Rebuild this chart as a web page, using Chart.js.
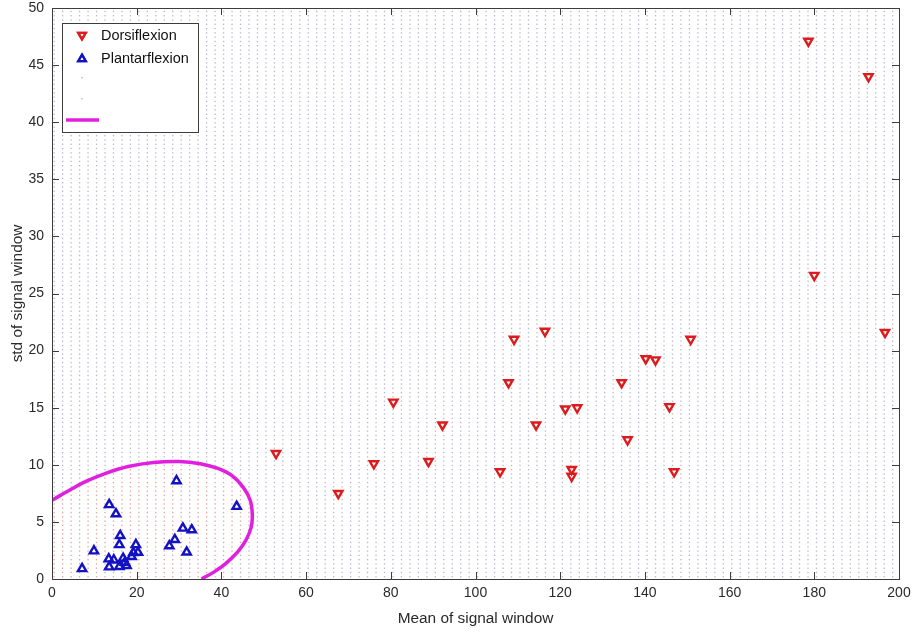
<!DOCTYPE html>
<html>
<head>
<meta charset="utf-8">
<script src="https://cdn.jsdelivr.net/npm/chart.js@4.4.1/dist/chart.umd.min.js"></script>
<style>
  html, body { margin: 0; padding: 0; background: #fff; }
  #wrap { width: 914px; height: 632px; }
</style>
</head>
<body>
<div id="wrap"><canvas id="scatterChart"></canvas></div>
<script>
// values
const dorsiX = [52.9, 67.6, 76.0, 80.6, 88.9, 92.2, 105.8, 107.8, 109.1, 116.4, 114.3, 121.2, 124.0,
                122.7, 122.7, 134.5, 135.9, 140.2, 142.5, 145.8, 146.9, 150.8, 178.6, 192.8, 180.0, 196.7];
const dorsiY = [11.0, 7.5, 10.1, 15.5, 10.3, 13.5, 9.4, 17.2, 21.0, 21.7, 13.5, 14.9, 15.0,
                9.6, 9.0, 17.2, 12.2, 19.3, 19.2, 15.1, 9.4, 21.0, 47.1, 44.0, 26.6, 21.6];

const plantarX = [7.1, 9.9, 13.5, 15.1, 16.1, 15.9, 13.4, 14.6, 13.5, 15.9, 16.8, 17.2, 17.6, 18.8,
                  19.2, 19.8, 20.3, 29.4, 43.6, 30.9, 33.0, 29.0, 27.7, 31.8];
const plantarY = [0.9, 2.45, 6.5, 5.7, 3.8, 3.0, 1.75, 1.66, 1.05, 1.08, 1.81, 1.46, 1.17, 1.96,
                  2.3, 3.0, 2.33, 8.6, 6.35, 4.45, 4.3, 3.45, 2.9, 2.35];

// decision boundary (magenta curve)
const boundaryX = [0, 4, 8, 13, 18, 24, 30, 35, 39, 42.5, 45.2, 46.8, 47.3, 47.0, 45.8, 43.8, 41.0, 38.2, 35.3];
const boundaryY = [6.9, 7.75, 8.55, 9.3, 9.85, 10.2, 10.28, 10.1, 9.7, 9.05, 8.0, 6.9, 5.6, 4.5, 3.4, 2.35, 1.35, 0.6, 0];

const xTicks = [0, 20, 40, 60, 80, 100, 120, 140, 160, 180, 200];
const yTicks = [0, 5, 10, 15, 20, 25, 30, 35, 40, 45, 50];

const toPoints = (xs, ys) => xs.map((x, i) => ({ x: x, y: ys[i] }));

const RED = '#dc1c1c';
const BLUE = '#1212c4';
const MAGENTA = '#e01fe0';
const AXIS = '#3c3c3c';
const TEXT = '#2a2a2a';
const DOT_IN = 'rgba(215,120,120,0.7)';
const DOT_OUT = 'rgba(120,120,175,0.55)';
const FONT = '"Liberation Sans", Arial, sans-serif';

// dotted classification background
const regionDots = {
  id: 'regionDots',
  beforeDatasetsDraw(chart) {
    const { ctx, scales: { x, y } } = chart;
    const path = new Path2D();
    boundaryX.forEach((v, i) => {
      const px = x.getPixelForValue(v), py = y.getPixelForValue(boundaryY[i]);
      if (i === 0) path.moveTo(px, py); else path.lineTo(px, py);
    });
    path.lineTo(x.getPixelForValue(0), y.getPixelForValue(0));
    path.closePath();
    ctx.save();
    for (let xv = 0.5; xv <= 200; xv += 2) {
      for (let yv = 0.2; yv <= 50; yv += 0.375) {
        const px = x.getPixelForValue(xv), py = y.getPixelForValue(yv);
        ctx.fillStyle = ctx.isPointInPath(path, px, py) ? DOT_IN : DOT_OUT;
        ctx.fillRect(px - 0.6, py - 0.6, 1.3, 1.3);
      }
    }
    ctx.restore();
  }
};

// MATLAB style box with inward ticks
const axesBox = {
  id: 'axesBox',
  afterDatasetsDraw(chart) {
    const { ctx, chartArea: a, scales: { x, y } } = chart;
    ctx.save();
    ctx.strokeStyle = AXIS;
    ctx.lineWidth = 1;
    ctx.strokeRect(a.left + 0.5, a.top + 0.5, a.right - a.left, a.bottom - a.top);
    ctx.beginPath();
    xTicks.forEach(v => {
      const px = Math.round(x.getPixelForValue(v)) + 0.5;
      ctx.moveTo(px, a.bottom); ctx.lineTo(px, a.bottom - 7);
      ctx.moveTo(px, a.top); ctx.lineTo(px, a.top + 7);
    });
    yTicks.forEach(v => {
      const py = Math.round(y.getPixelForValue(v)) + 0.5;
      ctx.moveTo(a.left, py); ctx.lineTo(a.left + 7, py);
      ctx.moveTo(a.right, py); ctx.lineTo(a.right - 7, py);
    });
    ctx.stroke();
    ctx.restore();
  }
};

// legend box in the upper left corner
const boxLegend = {
  id: 'boxLegend',
  afterDraw(chart) {
    const { ctx, chartArea: a } = chart;
    const bx = a.left + 10, by = a.top + 15, bw = 136, bh = 109;
    ctx.save();
    ctx.fillStyle = '#fff';
    ctx.fillRect(bx, by, bw, bh);
    ctx.strokeStyle = AXIS;
    ctx.lineWidth = 1;
    ctx.strokeRect(bx + 0.5, by + 0.5, bw, bh);

    const mx = bx + 20;
    const rows = [by + 12, by + 35, by + 54, by + 75, by + 97];
    const ds = chart.data.datasets;
    ctx.lineWidth = 2.2;
    ctx.strokeStyle = RED;
    Chart.helpers.drawPoint(ctx, { pointStyle: 'triangle', radius: 4.4, borderWidth: 2.2, rotation: 180 }, mx, rows[0]);
    ctx.stroke();
    ctx.strokeStyle = BLUE;
    Chart.helpers.drawPoint(ctx, { pointStyle: 'triangle', radius: 4.4, borderWidth: 2.2, rotation: 0 }, mx, rows[1] + 1);
    ctx.stroke();

    ctx.fillStyle = DOT_IN;
    ctx.fillRect(mx - 0.6, rows[2], 1.4, 1.4);
    ctx.fillStyle = DOT_OUT;
    ctx.fillRect(mx - 0.6, rows[3], 1.4, 1.4);

    ctx.strokeStyle = MAGENTA;
    ctx.lineWidth = 3.5;
    ctx.beginPath();
    ctx.moveTo(bx + 4, rows[4]); ctx.lineTo(bx + 37, rows[4]);
    ctx.stroke();

    ctx.fillStyle = '#111';
    ctx.font = '14.5px ' + FONT;
    ctx.textBaseline = 'middle';
    ctx.fillText(ds[0].label, bx + 39, rows[0] + 1);
    ctx.fillText(ds[1].label, bx + 39, rows[1] + 1);
    ctx.restore();
  }
};

new Chart(document.getElementById('scatterChart'), {
  type: 'scatter',
  data: {
    datasets: [{
      label: 'Dorsiflexion',
      data: toPoints(dorsiX, dorsiY),
      pointStyle: 'triangle',
      rotation: 180,
      pointRadius: 4.8,
      pointBorderWidth: 2.4,
      borderWidth: 2.4,
      borderColor: RED,
      backgroundColor: 'rgba(0,0,0,0)'
    }, {
      label: 'Plantarflexion',
      data: toPoints(plantarX, plantarY),
      pointStyle: 'triangle',
      pointRadius: 4.8,
      pointBorderWidth: 2.4,
      borderWidth: 2.4,
      borderColor: BLUE,
      backgroundColor: 'rgba(0,0,0,0)'
    }, {
      label: 'boundary',
      type: 'line',
      data: toPoints(boundaryX, boundaryY),
      showLine: true,
      pointRadius: 0,
      borderColor: MAGENTA,
      borderWidth: 3.5,
      tension: 0.4,
      fill: false
    }]
  },
  options: {
    responsive: true,
    maintainAspectRatio: false,
    animation: false,
    layout: { padding: { top: 8, right: 15, left: 0, bottom: 0 } },
    plugins: {
      legend: { display: false },
      tooltip: { enabled: false }
    },
    scales: {
      x: {
        type: 'linear',
        min: 0,
        max: 200,
        afterBuildTicks: s => { s.ticks = xTicks.map(v => ({ value: v })); },
        afterFit: s => { s.height = 53; s.paddingLeft = 0; s.paddingRight = 0; },
        grid: { display: false, drawTicks: false },
        border: { display: false },
        ticks: { color: TEXT, padding: 6, font: { family: FONT, size: 14 } },
        title: {
          display: true,
          text: 'Mean of signal window',
          color: TEXT,
          padding: { top: 0, bottom: 4 },
          font: { family: FONT, size: 15.4 }
        }
      },
      y: {
        type: 'linear',
        min: 0,
        max: 50,
        afterBuildTicks: s => { s.ticks = yTicks.map(v => ({ value: v })); },
        afterFit: s => { s.width = 52; s.paddingTop = 0; s.paddingBottom = 0; },
        grid: { display: false, drawTicks: false },
        border: { display: false },
        ticks: { color: TEXT, padding: 8, font: { family: FONT, size: 14 } },
        title: {
          display: true,
          text: 'std of signal window',
          color: TEXT,
          padding: { top: 9, bottom: 0 },
          font: { family: FONT, size: 15.4 }
        }
      }
    }
  },
  plugins: [regionDots, axesBox, boxLegend]
});
</script>
</body>
</html>
